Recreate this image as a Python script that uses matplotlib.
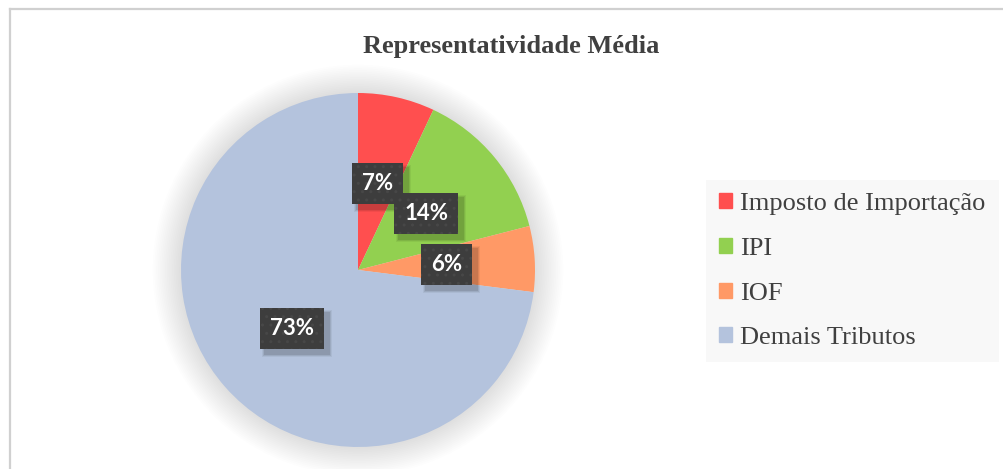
import matplotlib.pyplot as plt
import matplotlib.patches as mpatches
from matplotlib.lines import Line2D
import numpy as np

# dados
categorias = ['Imposto de Importação', 'IPI', 'IOF', 'Demais Tributos']
valores = [7, 14, 6, 73]
cores = ['#FF4F4F', '#92D050', '#FF9966', '#B4C3DD']
titulo = 'Representatividade Média'

fig = plt.figure(figsize=(10.04, 4.69), dpi=100)
fig.patch.set_facecolor('white')

# borda externa (apenas topo e esquerda visiveis)
fig.add_artist(Line2D([9.5 / 1004, 1], [1 - 9.5 / 469, 1 - 9.5 / 469],
                      transform=fig.transFigure, color='#d0d0d0', lw=1.6))
fig.add_artist(Line2D([9.5 / 1004, 9.5 / 1004], [0, 1 - 9.5 / 469],
                      transform=fig.transFigure, color='#d0d0d0', lw=1.6))

ax = fig.add_axes([181 / 1004, 22 / 469, 354 / 1004, 354 / 469])

# sombra difusa em volta da pizza
for i in range(16):
    c = mpatches.Circle((0, 0), 1.0 + 0.01 * (16 - i), color='black',
                        alpha=0.009, lw=0, zorder=0, clip_on=False)
    ax.add_patch(c)

wedges, _ = ax.pie(valores, colors=cores, startangle=90, counterclock=False,
                   wedgeprops=dict(linewidth=0, zorder=1))
ax.set_xlim(-1, 1)
ax.set_ylim(-1, 1)
ax.set_aspect('equal')
ax.axis('off')

ang0 = 90.0
total = sum(valores)
rotulos = []
for v in valores:
    meio = ang0 - v / total * 360 / 2
    ang0 -= v / total * 360
    x = 0.5 * np.cos(np.radians(meio))
    y = 0.5 * np.sin(np.radians(meio))
    t = ax.text(x, y, f'{v}%', ha='center', va='center', fontsize=16,
                fontweight='bold', family='Lato', color='white',
                bbox=dict(boxstyle='square,pad=0.45', fc='#3d3d3d', ec='#474747',
                          lw=0, hatch='..'),
                zorder=5)
    rotulos.append(t)

# sombra dos rotulos (desenhada dentro do eixo, abaixo dos rotulos)
fig.canvas.draw()
inv = fig.transFigure.inverted()
for t in rotulos:
    bb = t.get_bbox_patch().get_window_extent()
    for k, a in [(6, 0.05), (4, 0.08), (2, 0.1)]:
        (x0, y0), (x1, y1) = inv.transform([[bb.x0 + 5 - k / 2, bb.y0 - 5 - k / 2],
                                            [bb.x1 + 5 + k / 2, bb.y1 - 5 + k / 2]])
        r = mpatches.Rectangle((x0, y0), x1 - x0, y1 - y0,
                               transform=fig.transFigure, fc='black',
                               ec='none', alpha=a, zorder=2.5, clip_on=False)
        ax.add_artist(r)

fig.text(511 / 1004, 1 - 47 / 469, titulo, ha='center', va='center',
         fontsize=19, fontweight='bold', family='Liberation Serif', color='#404040')

handles = [mpatches.Patch(color=c, label=l) for c, l in zip(cores, categorias)]
leg = fig.legend(handles=handles, loc='upper left',
                 bbox_to_anchor=(706 / 1004, 1 - 180 / 469),
                 prop={'family': 'Liberation Serif', 'size': 19},
                 labelcolor='#404040', frameon=True, fancybox=False,
                 facecolor='#f8f8f8', edgecolor='none', framealpha=1,
                 handlelength=0.5, handleheight=0.5, handletextpad=0.3,
                 labelspacing=0.86, borderpad=0.5, borderaxespad=0)

fig.savefig('out.png', dpi=100)
